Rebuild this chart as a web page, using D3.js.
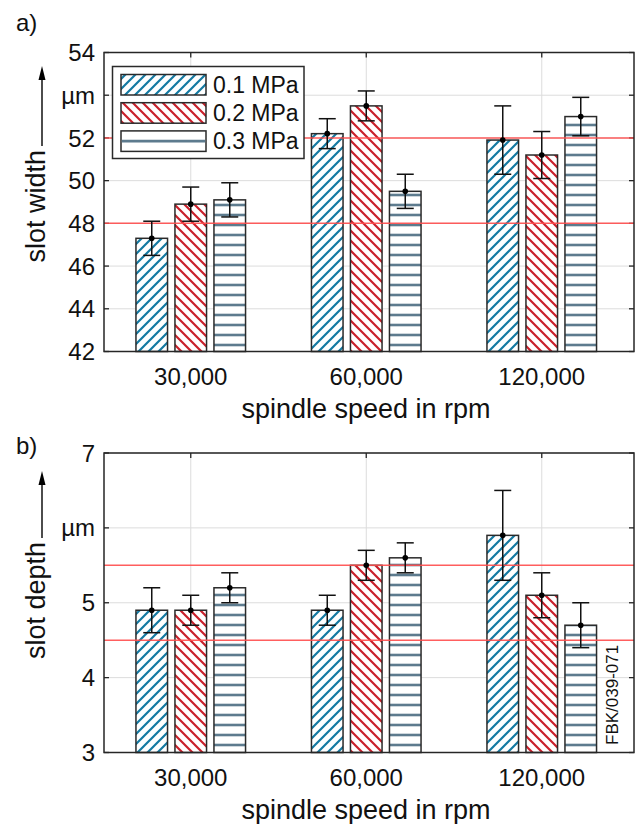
<!DOCTYPE html>
<html>
<head>
<meta charset="utf-8">
<script src="https://cdn.jsdelivr.net/npm/d3@7"></script>
<style>
  html, body { margin: 0; padding: 0; background: #fff; }
  svg { display: block; }
  text { font-family: "Liberation Sans", Arial, Helvetica, sans-serif; fill: #111; }
</style>
</head>
<body>
<script>
// ---------------- data ----------------
const categories = ["30,000", "60,000", "120,000"];
const series = ["0.1 MPa", "0.2 MPa", "0.3 MPa"];

const slotWidth01 = [47.3, 52.2, 51.9];
const slotWidth02 = [48.9, 53.5, 51.2];
const slotWidth03 = [49.1, 49.5, 53.0];
const slotWidthErr01 = [0.8, 0.7, 1.6];
const slotWidthErr02 = [0.8, 0.7, 1.1];
const slotWidthErr03 = [0.8, 0.8, 0.9];

const slotDepth01 = [4.9, 4.9, 5.9];
const slotDepth02 = [4.9, 5.5, 5.1];
const slotDepth03 = [5.2, 5.6, 4.7];
const slotDepthErr01 = [0.3, 0.2, 0.6];
const slotDepthErr02 = [0.2, 0.2, 0.3];
const slotDepthErr03 = [0.2, 0.2, 0.3];

const widthLimits = [48, 52];
const depthLimits = [4.5, 5.5];

const widthTicks = [42, 44, 46, 48, 50, 52, 54, 56];
const widthTickLabels = ["42", "44", "46", "48", "50", "52", "µm", "54"];
const depthTicks = [3, 4, 5, 6, 7];
const depthTickLabels = ["3", "4", "5", "µm", "7"];

// ---------------- setup ----------------
const W = 638, H = 824;
const svg = d3.select("body").append("svg").attr("width", W).attr("height", H);

const BLUE = "#1479a2", RED = "#c9202b", GRAYL = "#5d7b8e";
const defs = svg.append("defs");
function hatch(id, color, d, w) {
  const p = defs.append("pattern").attr("id", id)
    .attr("patternUnits", "userSpaceOnUse").attr("width", 10).attr("height", 10);
  p.append("rect").attr("width", 10).attr("height", 10).attr("fill", "#fff");
  p.append("path").attr("d", d).attr("stroke", color).attr("stroke-width", w).attr("fill", "none");
}
hatch("h1", BLUE, "M-2,2 L2,-2 M0,10 L10,0 M8,12 L12,8", 2.2);
hatch("h2", RED, "M-2,8 L2,12 M0,0 L10,10 M8,-2 L12,2", 2.2);
hatch("h3", GRAYL, "M0,5 L10,5", 2.6);
const fills = ["url(#h1)", "url(#h2)", "url(#h3)"];

const left = 104, right = 634;
const x0 = d3.scaleBand().domain(categories).range([103, 629.5]);
const x1 = d3.scaleBand().domain(series).range([-58.5, 58.5]).paddingInner(0.19).paddingOuter(0.095);

function panel(opt) {
  const g = svg.append("g");
  const y = d3.scaleLinear().domain(opt.domain).range([opt.bottom, opt.top]);
  const grid = g.append("g");
  // horizontal grid
  grid.selectAll("line.hg").data(opt.ticks).join("line")
    .attr("x1", left).attr("x2", right)
    .attr("y1", d => y(d)).attr("y2", d => y(d))
    .attr("stroke", "#dcdcdc").attr("stroke-width", 1);
  // vertical grid
  grid.selectAll("line.vg").data(categories).join("line")
    .attr("x1", d => x0(d) + x0.bandwidth() / 2).attr("x2", d => x0(d) + x0.bandwidth() / 2)
    .attr("y1", opt.top).attr("y2", opt.bottom)
    .attr("stroke", "#dcdcdc").attr("stroke-width", 1);

  // ticks (inward)
  const tk = g.append("g").attr("stroke", "#262626").attr("stroke-width", 1.3);
  opt.ticks.forEach(t => {
    tk.append("line").attr("x1", left).attr("x2", left + 5).attr("y1", y(t)).attr("y2", y(t));
    tk.append("line").attr("x1", right - 5).attr("x2", right).attr("y1", y(t)).attr("y2", y(t));
  });
  categories.forEach(c => {
    const cx = x0(c) + x0.bandwidth() / 2;
    tk.append("line").attr("x1", cx).attr("x2", cx).attr("y1", opt.top).attr("y2", opt.top + 5);
    tk.append("line").attr("x1", cx).attr("x2", cx).attr("y1", opt.bottom).attr("y2", opt.bottom - 5);
  });

  // bars
  const rows = [];
  opt.values.forEach((vals, si) => {
    vals.forEach((v, ci) => rows.push({ c: categories[ci], s: series[si], si, v, e: opt.errors[si][ci] }));
  });
  g.append("g").selectAll("rect").data(rows).join("rect")
    .attr("x", d => x0(d.c) + x0.bandwidth() / 2 + x1(d.s))
    .attr("width", x1.bandwidth())
    .attr("y", d => y(d.v))
    .attr("height", d => y(opt.domain[0]) - y(d.v))
    .attr("fill", d => fills[d.si])
    .attr("stroke", "#2a2a2a").attr("stroke-width", 1.5);

  // reference lines
  g.append("g").selectAll("line").data(opt.limits).join("line")
    .attr("x1", left).attr("x2", right)
    .attr("y1", d => y(d)).attr("y2", d => y(d))
    .attr("stroke", "#ff4d4d").attr("stroke-opacity", 0.9).attr("stroke-width", 1.5);

  // error bars
  const eb = g.append("g").attr("stroke", "#111").attr("stroke-width", 1.5);
  rows.forEach(d => {
    const cx = x0(d.c) + x0.bandwidth() / 2 + x1(d.s) + x1.bandwidth() / 2;
    eb.append("line").attr("x1", cx).attr("x2", cx).attr("y1", y(d.v + d.e)).attr("y2", y(d.v - d.e));
    eb.append("line").attr("x1", cx - 8.5).attr("x2", cx + 8.5).attr("y1", y(d.v + d.e)).attr("y2", y(d.v + d.e));
    eb.append("line").attr("x1", cx - 8.5).attr("x2", cx + 8.5).attr("y1", y(d.v - d.e)).attr("y2", y(d.v - d.e));
    g.append("circle").attr("cx", cx).attr("cy", y(d.v)).attr("r", 2.8).attr("fill", "#000");
  });

  // frame
  g.append("rect").attr("x", left).attr("y", opt.top).attr("width", right - left).attr("height", opt.bottom - opt.top)
    .attr("fill", "none").attr("stroke", "#262626").attr("stroke-width", 1.5);

  // y tick labels
  g.append("g").selectAll("text").data(opt.ticks).join("text")
    .attr("x", 95).attr("y", d => y(d) + 8.6)
    .attr("text-anchor", "end").attr("font-size", 24)
    .text((d, i) => opt.tickLabels[i]);

  // x tick labels
  g.append("g").selectAll("text").data(categories).join("text")
    .attr("x", d => x0(d) + x0.bandwidth() / 2).attr("y", opt.bottom + 33)
    .attr("text-anchor", "middle").attr("font-size", 24)
    .text(d => d);

  // x title
  g.append("text").attr("x", 366).attr("y", opt.bottom + 66)
    .attr("text-anchor", "middle").attr("font-size", 27).text("spindle speed in rpm");

  // y title with arrow
  g.append("text").attr("transform", `translate(45,${opt.titleEnd}) rotate(-90)`)
    .attr("text-anchor", "end").attr("font-size", 27).text(opt.yTitle);
  g.append("line").attr("x1", 42).attr("x2", 42).attr("y1", opt.titleEnd - 4).attr("y2", opt.arrowTip + 12)
    .attr("stroke", "#000").attr("stroke-width", 1.4);
  g.append("path").attr("d", `M42,${opt.arrowTip} L38.5,${opt.arrowTip + 14} L45.5,${opt.arrowTip + 14} Z`).attr("fill", "#000");

  // panel letter
  g.append("text").attr("x", 16).attr("y", opt.letterY).attr("font-size", 24).text(opt.letter);
  return { g, y };
}

const pa = panel({
  top: 52.5, bottom: 351.5, domain: [42, 56],
  ticks: widthTicks, tickLabels: widthTickLabels,
  values: [slotWidth01, slotWidth02, slotWidth03],
  errors: [slotWidthErr01, slotWidthErr02, slotWidthErr03],
  limits: widthLimits, yTitle: "slot width", titleEnd: 150, arrowTip: 66,
  letter: "a)", letterY: 31
});

const pb = panel({
  top: 453, bottom: 752.5, domain: [3, 7],
  ticks: depthTicks, tickLabels: depthTickLabels,
  values: [slotDepth01, slotDepth02, slotDepth03],
  errors: [slotDepthErr01, slotDepthErr02, slotDepthErr03],
  limits: depthLimits, yTitle: "slot depth", titleEnd: 542, arrowTip: 471,
  letter: "b)", letterY: 454
});

// legend (panel a)
const lg = svg.append("g");
lg.append("rect").attr("x", 112.5).attr("y", 66.5).attr("width", 191.5).attr("height", 92)
  .attr("fill", "#fff").attr("stroke", "#2a2a2a").attr("stroke-width", 1.5);
series.forEach((s, i) => {
  const yy = 74.5 + i * 28.2;
  const sw = lg.append("rect").attr("x", 121).attr("y", yy).attr("width", 85).attr("height", 20.5)
    .attr("stroke", "#2a2a2a").attr("stroke-width", 1.5);
  if (i < 2) sw.attr("fill", fills[i]);
  else {
    sw.attr("fill", "#fff");
    lg.append("line").attr("x1", 121.8).attr("x2", 205.2).attr("y1", yy + 10.25).attr("y2", yy + 10.25)
      .attr("stroke", GRAYL).attr("stroke-width", 2.6);
  }
  lg.append("text").attr("x", 213).attr("y", yy + 10.25 + 8.3).attr("font-size", 23).text(s);
});

// figure id
svg.append("text").attr("transform", "translate(618,745) rotate(-90)")
  .attr("font-size", 17).text("FBK/039-071");
</script>
</body>
</html>
